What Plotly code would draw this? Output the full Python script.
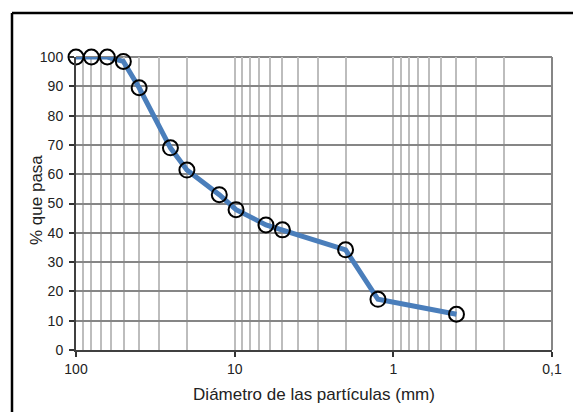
import plotly.graph_objects as go

diametro_mm = [100, 80, 63.5, 50.3, 40, 25.4, 20, 12.5, 9.8, 6.35, 5.0, 2.0, 1.25, 0.4]
pct_pasa = [100, 100, 100, 98.5, 89.5, 69, 61.4, 53, 47.9, 42.7, 41, 34.2, 17.3, 12.2]

x_tickvals = [100, 10, 1, 0.1]
x_ticktext = ["100", "10", "1", "0,1"]
x_minor = [m * 10 ** e for e in (-1, 0, 1) for m in range(2, 10)]

FONT = "Liberation Sans, Arial, sans-serif"

fig = go.Figure()
fig.add_trace(go.Scatter(
    x=diametro_mm, y=pct_pasa, mode="lines+markers",
    line=dict(color="#4a7ebb", width=5),
    marker=dict(symbol="circle-open", size=15, color="black", line=dict(color="black", width=2)),
    showlegend=False, cliponaxis=False,
))

L, R, T, B = 76, 21, 57, 62
W, H = 573, 412
pw, ph = W - L - R, H - T - B

fig.update_layout(
    width=W, height=H,
    margin=dict(l=L, r=R, t=T, b=B, autoexpand=False),
    paper_bgcolor="white", plot_bgcolor="white",
    font=dict(family=FONT, size=14, color="#222222"),
    xaxis=dict(
        type="log", range=[2, -1], automargin=False,
        tickvals=x_tickvals, ticktext=x_ticktext,
        ticks="outside", ticklen=5, tickcolor="#333333", tickwidth=1.5,
        showgrid=True, gridcolor="#bdbdbd", gridwidth=1.5,
        minor=dict(tickvals=x_minor, showgrid=True, gridcolor="#bdbdbd", gridwidth=1.5, ticks=""),
        showline=True, linecolor="#404040", linewidth=2,
        zeroline=False,
        title=dict(text="Diámetro de las partículas (mm)", font=dict(size=17, family=FONT), standoff=12),
        tickfont=dict(size=14),
    ),
    yaxis=dict(
        range=[0, 100], dtick=10, automargin=False,
        ticks="outside", ticklen=5, tickcolor="#333333", tickwidth=1.5,
        ticklabelstandoff=3,
        showgrid=True, gridcolor="#868686", gridwidth=1.5,
        showline=True, linecolor="#404040", linewidth=2,
        zeroline=False,
        tickfont=dict(size=14),
    ),
)

fig.add_annotation(text="% que pasa", xref="paper", yref="paper",
                   x=(36 - L) / pw, y=(H - B - 200) / ph, textangle=-90,
                   showarrow=False, xanchor="center", yanchor="middle",
                   font=dict(size=17, family=FONT, color="#222222"))

# plot area border (top and right)
fig.add_shape(type="line", xref="paper", yref="paper", x0=0, x1=1, y0=1, y1=1,
              line=dict(color="#868686", width=2), layer="below")
fig.add_shape(type="line", xref="paper", yref="paper", x0=1, x1=1, y0=0, y1=1,
              line=dict(color="#868686", width=2), layer="below")

# outer chart frame (left and top visible)
fx = (12 - L) / pw
fy = (H - B - 13) / ph
fig.add_shape(type="line", xref="paper", yref="paper", x0=fx, x1=fx, y0=-0.3, y1=fy,
              line=dict(color="black", width=2.5))
fig.add_shape(type="line", xref="paper", yref="paper", x0=fx, x1=1.1, y0=fy, y1=fy,
              line=dict(color="black", width=2.5))

fig.write_html("out.html", config={"displayModeBar": False},
               post_script="document.body.style.margin='0';document.body.style.overflow='hidden';")
